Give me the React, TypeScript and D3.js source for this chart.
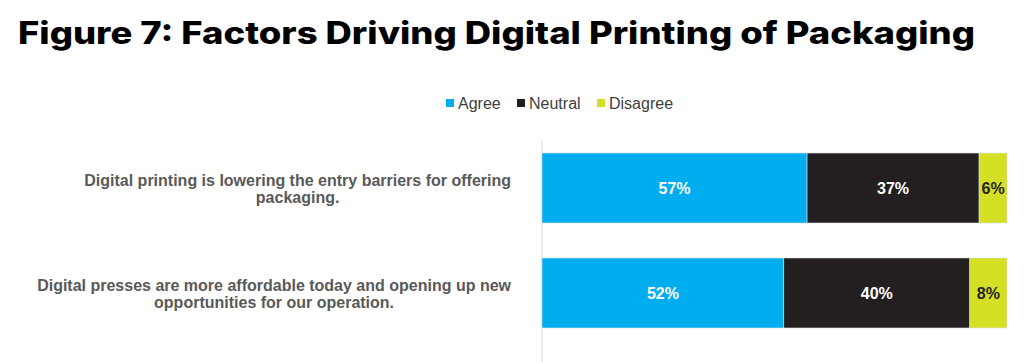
import React, { useEffect, useRef } from 'react';
import * as d3 from 'd3';

// chart data
const categories = [
  'Digital printing is lowering the entry barriers for offering|packaging.',
  'Digital presses are more affordable today and opening up new|opportunities for our operation.',
];
const seriesNames = ['Agree', 'Neutral', 'Disagree'];
const agree = [57, 52];
const neutral = [37, 40];
const disagree = [6, 8];
const colors = ['#00AEEF', '#231F20', '#D5DF23'];
const labelColors = ['#ffffff', '#ffffff', '#231F20'];

const W = 1024;
const H = 362;

const App = () => {
  const svgRef = useRef<SVGSVGElement>(null);

  useEffect(() => {
    const svg = d3.select(svgRef.current);
    svg.selectAll('*').remove();
    svg.attr('style', 'background-color: #ffffff; position: absolute; left: 0; top: 0');

    const margin = { left: 542, right: 17, top: 140, bottom: 21 };

    // title
    svg.append('text')
      .attr('x', 18)
      .attr('y', 44)
      .attr('font-family', 'Inter, "Liberation Sans", sans-serif')
      .attr('font-weight', 800)
      .attr('font-size', 31)
      .attr('textLength', 957)
      .attr('lengthAdjust', 'spacingAndGlyphs')
      .attr('fill', '#000')
      .text('Figure 7: Factors Driving Digital Printing of Packaging');

    // legend
    const legendX = [446, 517, 597];
    const legend = svg.append('g');
    seriesNames.forEach((name, i) => {
      legend.append('rect')
        .attr('x', legendX[i])
        .attr('y', 99)
        .attr('width', 8)
        .attr('height', 8)
        .attr('fill', colors[i]);
      legend.append('text')
        .attr('x', legendX[i] + 12)
        .attr('y', 109)
        .attr('font-family', '"Liberation Sans", Arial, sans-serif')
        .attr('font-size', 16)
        .attr('fill', '#404040')
        .text(name);
    });

    const rows = categories.map((c, i) => ({
      label: c,
      values: [agree[i], neutral[i], disagree[i]],
    }));

    const x = d3.scaleLinear().domain([0, 100]).range([margin.left, W - margin.right]);
    const y = d3.scaleBand()
      .domain(categories)
      .range([margin.top, H - margin.bottom])
      .paddingInner(1 / 3)
      .paddingOuter(0.124);

    // axis line
    svg.append('line')
      .attr('x1', margin.left).attr('x2', margin.left)
      .attr('y1', margin.top).attr('y2', H)
      .attr('stroke', '#d9d9d9')
      .attr('stroke-width', 1);

    rows.forEach((row) => {
      const g = svg.append('g');
      let acc = 0;
      row.values.forEach((v, i) => {
        const x0 = x(acc);
        const x1 = x(acc + v);
        g.append('rect')
          .attr('x', x0)
          .attr('y', y(row.label)!)
          .attr('width', x1 - x0)
          .attr('height', y.bandwidth())
          .attr('fill', colors[i])
          .attr('stroke', '#d6dde3')
          .attr('stroke-width', 0.6);
        g.append('text')
          .attr('x', (x0 + x1) / 2)
          .attr('y', y(row.label)! + y.bandwidth() / 2)
          .attr('dy', '0.35em')
          .attr('text-anchor', 'middle')
          .attr('font-family', '"Liberation Sans", Arial, sans-serif')
          .attr('font-weight', 700)
          .attr('font-size', 16)
          .attr('fill', labelColors[i])
          .text(`${v}%`);
        acc += v;
      });

      // category label, lines centred on each other, block ending at x=511
      const lines = row.label.split('|');
      const lbl = svg.append('text')
        .attr('font-family', '"Liberation Sans", Arial, sans-serif')
        .attr('font-weight', 700)
        .attr('font-size', 16)
        .attr('fill', '#595959')
        .attr('text-anchor', 'middle');
      const cy = y(row.label)! + y.bandwidth() / 2 + 1;
      const spans = lines.map((t, k) =>
        lbl.append('tspan')
          .attr('y', cy + (k - (lines.length - 1) / 2) * 17)
          .attr('dy', '0.35em')
          .text(t)
      );
      const maxW = d3.max(spans, (s) => (s.node() as SVGTSpanElement).getComputedTextLength()) || 0;
      spans.forEach((s) => s.attr('x', 511 - maxW / 2));
    });
  });

  return (
    <>
      <svg ref={svgRef} width={W} height={H}></svg>
    </>
  );
};

export default App;
